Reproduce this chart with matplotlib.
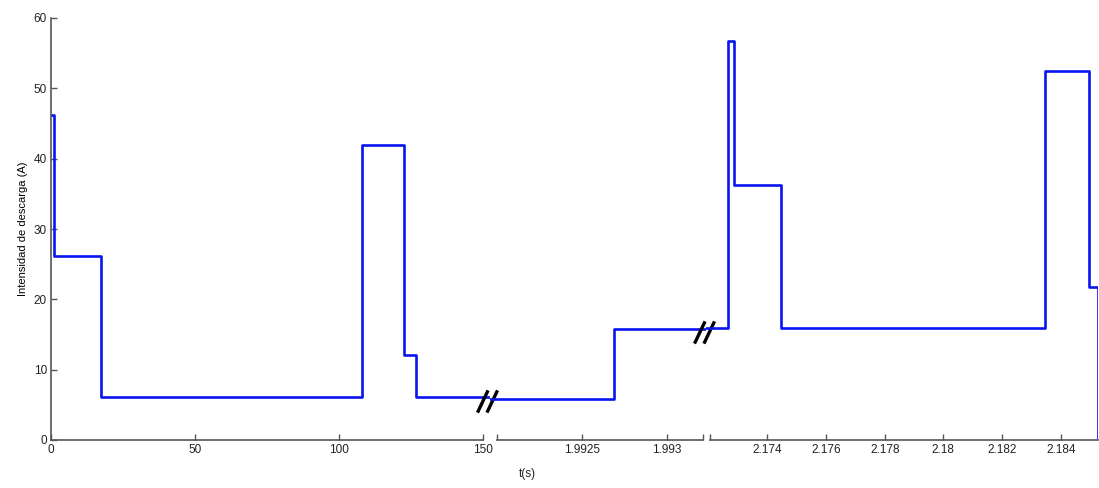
import matplotlib.pyplot as plt
import numpy as np
from matplotlib.path import Path

plt.rcParams['font.family'] = ['Liberation Sans', 'DejaVu Sans']

# segment 1: 0 .. 150 s
t1 = [0, 1.0, 17.3, 107.9, 122.6, 126.7, 152.4]
i1 = [46.2, 26.2, 6.1, 42.0, 12.1, 6.1, 6.1]
# segment 2
t2 = [1.99196, 1.99269, 1.99323]
i2 = [5.9, 15.8, 15.8]
# segment 3
t3 = [2.17191, 2.17267, 2.17288, 2.17447, 2.18347, 2.18496, 2.18527]
i3 = [15.9, 56.7, 36.2, 15.9, 52.5, 21.8, 0]

ticks1 = [0, 50, 100, 150]
ticks2 = [1.9925, 1.993]
labels2 = ['1.9925', '1.993']
ticks3 = [2.174, 2.176, 2.178, 2.18, 2.182, 2.184]
labels3 = ['2.174', '2.176', '2.178', '2.18', '2.182', '2.184']
yticks = [0, 10, 20, 30, 40, 50, 60]

W, H = 1099, 488
fig = plt.figure(figsize=(W / 100, H / 100), dpi=100)
bot, top = 48 / H, 422 / H
ax1 = fig.add_axes([51 / W, bot, 439 / W, top])
ax2 = fig.add_axes([490 / W, bot, 216 / W, top])
ax3 = fig.add_axes([706 / W, bot, 392 / W, top])

blue = '#0a14f0'
axc = '#555555'
for ax, t, i in [(ax1, t1, i1), (ax2, t2, i2), (ax3, t3, i3)]:
    ax.plot(t, i, drawstyle='steps-post', color=blue, lw=1.9)
    ax.set_xlim(t[0], t[-1])
    ax.set_ylim(0, 60)
    for s in ['top', 'right', 'left']:
        ax.spines[s].set_visible(False)
    ax.spines['bottom'].set_color(axc)
    ax.spines['bottom'].set_linewidth(1.2)
    ax.tick_params(axis='x', direction='in', length=4, width=1, color=axc,
                   labelsize=8.5, pad=3, labelcolor='#222222')
    ax.tick_params(axis='x', which='minor', direction='in', length=4, width=1, color=axc)
    ax.patch.set_alpha(0)

ax1.spines['left'].set_visible(True)
ax1.spines['left'].set_color(axc)
ax1.spines['left'].set_linewidth(1.2)
ax1.set_yticks(yticks)
ax1.tick_params(axis='y', direction='in', length=4, width=1, color=axc,
                labelsize=8.5, pad=3, labelcolor='#222222')
ax1.set_xticks(ticks1)
ax1.spines['bottom'].set_bounds(0, 150)

ax2.set_yticks([])
ax2.set_xticks(ticks2, labels2)
ax2.set_xticks([1.99200, 1.99321], minor=True)
ax2.spines['bottom'].set_bounds(1.99200, 1.99321)

ax3.set_yticks([])
ax3.set_xticks(ticks3, labels3)
ax3.set_xticks([2.17205], minor=True)
ax3.spines['bottom'].set_bounds(2.17205, 2.18527)

# axis break marks "//"
brk = Path([(-0.9, -1), (0.05, 1), (-0.05, -1), (0.9, 1)],
           [Path.MOVETO, Path.LINETO, Path.MOVETO, Path.LINETO])
ax1.plot([151.2], [5.6], marker=brk, markersize=16, mew=2.4, color='black',
         clip_on=False, zorder=5, ls='none')
ax2.plot([1.99322], [15.4], marker=brk, markersize=16, mew=2.4, color='black',
         clip_on=False, zorder=5, ls='none')

ax1.set_ylabel('Intensidad de descarga (A)', fontsize=8, labelpad=4)
fig.text(527 / W, 8 / H, 't(s)', fontsize=8.5, ha='center', va='bottom', color='#222222')

plt.savefig('out.png', dpi=100)
